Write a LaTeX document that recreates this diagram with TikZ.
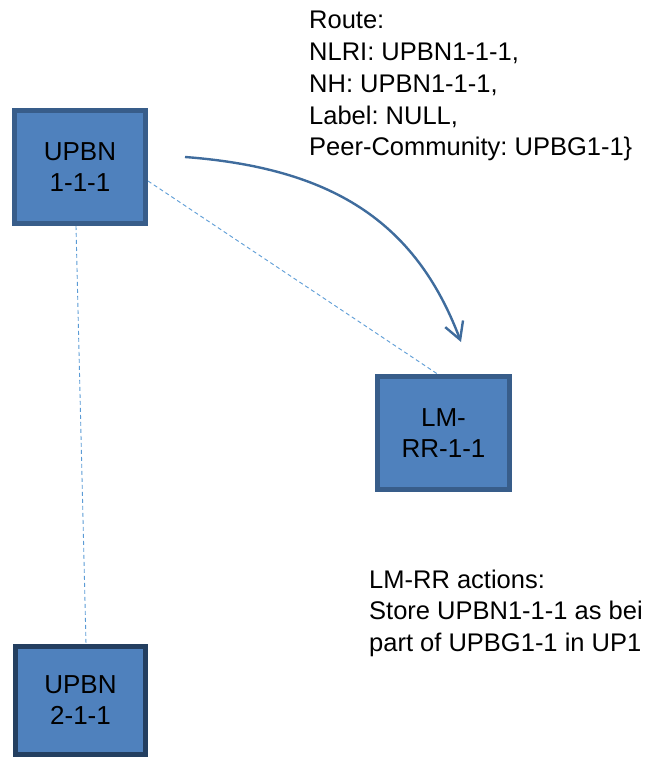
\documentclass[tikz,border=0pt]{standalone}
\usepackage{fontspec}
\setmainfont{Liberation Sans}
\usetikzlibrary{arrows.meta}
\frenchspacing
\definecolor{boxfill}{HTML}{4F81BD}
\definecolor{boxline}{HTML}{385D8A}
\definecolor{boxlinedark}{HTML}{243F60}
\definecolor{linkblue}{HTML}{5B9BD5}
\definecolor{routeblue}{HTML}{3F6C9D}
\tikzset{
  nodebox/.style={draw=boxline, fill=boxfill, line width=5pt, align=center,
    inner sep=0pt, font=\fontsize{26}{31}\selectfont, text=black},
  linkline/.style={draw=linkblue, line width=0.9pt, dash pattern=on 4pt off 3pt},
  routearrow/.style={draw=routeblue, line width=2.4pt,
    -{Straight Barb[length=17pt,width=19pt,line width=2.4pt]}},
  note/.style={align=left, anchor=north west, inner sep=0pt,
    font=\fontsize{25.5}{31.8}\selectfont, text=black}
}
\begin{document}
\begin{tikzpicture}[x=1pt,y=-1pt]
  \useasboundingbox (0,0) rectangle (651,759);
  \clip (0,0) rectangle (651,759);

  % route advertisement text
  \node[note] (route) at (309,11) {Route:\\NLRI: UPBN1-1-1,\\NH: UPBN1-1-1,\\Label: NULL,\\Peer-Community: UPBG1-1\}};

  % routers
  \node[nodebox, minimum width=131pt, minimum height=113pt] (b1) at (80,167) {UPBN\\1-1-1};
  \node[nodebox, minimum width=132pt, minimum height=113pt] (b2) at (443.5,433) {LM-\\RR-1-1};
  \node[nodebox, draw=boxlinedark, minimum width=130pt, minimum height=108pt] (b3) at (80.5,700.5) {UPBN\\2-1-1};

  % control-plane adjacencies
  \draw[linkline] ([yshift=-14pt]b1.east) -- ([xshift=-6pt]b2.north);
  \draw[linkline] ([xshift=-4pt]b1.south) -- ([xshift=5.5pt]b3.north);

  % route sent to the route reflector
  \coordinate (rs) at (185,157);
  \coordinate (re) at (461,342);
  \draw[routearrow] (rs) .. controls (330,168) and (415,220) .. (re);

  % route reflector actions
  \node[note] (actions) at (369,569.5) {LM-RR actions:\\Store UPBN1-1-1 as bei\\part of UPBG1-1 in UP1};
\end{tikzpicture}
\end{document}
